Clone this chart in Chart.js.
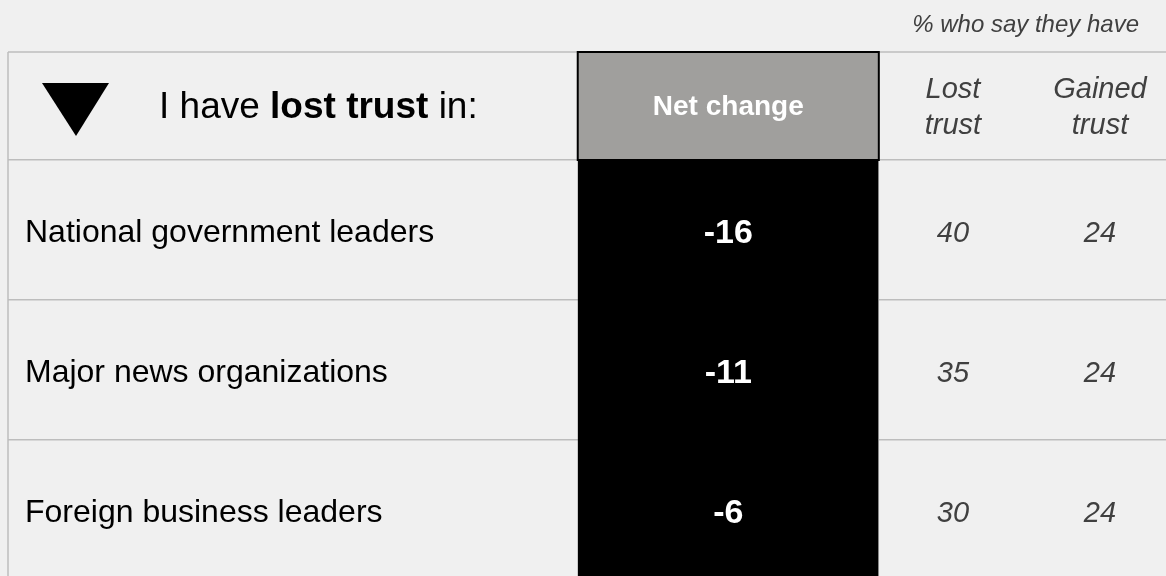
<!DOCTYPE html>
<html>
<head>
<meta charset="utf-8">
<script src="https://cdn.jsdelivr.net/npm/chart.js@4.4.1/dist/chart.umd.min.js"></script>
<style>
    html, body { margin: 0; padding: 0; background: #f0f0f0; overflow: hidden; }
    #wrap { width: 1166px; height: 580px; }
</style>
</head>
<body>
<div id="wrap"><canvas id="trustChart" width="1166" height="580"></canvas></div>
<script>
// Table data
const institutions = ['National government leaders', 'Major news organizations', 'Foreign business leaders'];
const netChange = [-16, -11, -6];
const lostTrust = [40, 35, 30];
const gainedTrust = [24, 24, 24];
const netHeader = 'Net change';
const lostHeader = ['Lost', 'trust'];
const gainedHeader = ['Gained', 'trust'];
const noteText = '% who say they have';

// Column layout, in percent of table width (x scale 0..100)
const COL = { netLeft: 49.2, netRight: 75.2, lost: 81.6, gained: 94.3 };
const FONT = '"Liberation Sans", Arial, sans-serif';
const HEADER_TOP = 52;
const LINE_COLOR = '#bdbdbd';

const tablePlugin = {
    id: 'tableText',
    afterDraw(chart) {
        const { ctx, chartArea } = chart;
        const x = chart.scales.x;
        const y = chart.scales.y;
        const netL = x.getPixelForValue(COL.netLeft);
        const netR = x.getPixelForValue(COL.netRight);
        const netC = (netL + netR) / 2;
        const lostC = x.getPixelForValue(COL.lost);
        const gainC = x.getPixelForValue(COL.gained);

        ctx.save();
        // header frame lines
        ctx.strokeStyle = LINE_COLOR;
        ctx.lineWidth = 1.5;
        ctx.beginPath();
        ctx.moveTo(chartArea.left, HEADER_TOP);
        ctx.lineTo(chartArea.right, HEADER_TOP);
        ctx.moveTo(chartArea.left, HEADER_TOP);
        ctx.lineTo(chartArea.left, chartArea.bottom);
        ctx.stroke();

        // net change header cell
        ctx.fillStyle = '#a09f9d';
        ctx.fillRect(netL, HEADER_TOP, netR - netL, chartArea.top - HEADER_TOP);
        ctx.strokeStyle = '#000';
        ctx.lineWidth = 2;
        ctx.strokeRect(netL, HEADER_TOP, netR - netL, chartArea.top - HEADER_TOP);

        const headMid = (HEADER_TOP + chartArea.top) / 2;
        ctx.textBaseline = 'middle';
        ctx.textAlign = 'center';
        ctx.fillStyle = '#fff';
        ctx.font = 'bold 28px ' + FONT;
        ctx.fillText(netHeader, netC, headMid + 1);

        // lost / gained headers
        ctx.fillStyle = '#404040';
        ctx.font = 'italic 29px ' + FONT;
        ctx.fillText(lostHeader[0], lostC, headMid - 16);
        ctx.fillText(lostHeader[1], lostC, headMid + 20);
        ctx.fillText(gainedHeader[0], gainC, headMid - 16);
        ctx.fillText(gainedHeader[1], gainC, headMid + 20);

        // note above table
        ctx.textAlign = 'right';
        ctx.font = 'italic 24px ' + FONT;
        ctx.fillText(noteText, 1139, 25);

        // down triangle
        ctx.fillStyle = '#000';
        ctx.beginPath();
        ctx.moveTo(42, 83);
        ctx.lineTo(109, 83);
        ctx.lineTo(76, 136);
        ctx.closePath();
        ctx.fill();

        // "I have lost trust in:" with bold part
        ctx.textAlign = 'left';
        const parts = [['I have ', ''], ['lost trust', 'bold '], [' in:', '']];
        let tx = 159;
        parts.forEach(([txt, weight]) => {
            ctx.font = weight + '37px ' + FONT;
            ctx.fillText(txt, tx, headMid + 2);
            tx += ctx.measureText(txt).width;
        });

        // row labels and values
        institutions.forEach((name, i) => {
            const yy = y.getPixelForValue(i);
            ctx.textAlign = 'left';
            ctx.fillStyle = '#000';
            ctx.font = '32px ' + FONT;
            ctx.fillText(name, chartArea.left + 17, yy + 3);

            ctx.textAlign = 'center';
            ctx.fillStyle = '#fff';
            ctx.font = 'bold 34px ' + FONT;
            ctx.fillText(String(netChange[i]), netC, yy + 4);
            ctx.fillStyle = '#404040';
            ctx.font = 'italic 29px ' + FONT;
            ctx.fillText(String(lostTrust[i]), lostC, yy + 4);
            ctx.fillText(String(gainedTrust[i]), gainC, yy + 4);
        });
        ctx.restore();
    }
};

new Chart(document.getElementById('trustChart'), {
    type: 'bar',
    data: {
        labels: institutions,
        datasets: [{
            label: netHeader,
            data: institutions.map(() => [COL.netLeft, COL.netRight]),
            backgroundColor: '#000',
            borderColor: '#a0a0a0',
            borderWidth: { left: 0, right: 1, top: 0, bottom: 0 },
            borderSkipped: false,
            barPercentage: 1,
            categoryPercentage: 1
        }]
    },
    options: {
        indexAxis: 'y',
        responsive: false,
        animation: false,
        events: [],
        layout: { padding: { top: 160, left: 8, right: 0, bottom: 0 } },
        plugins: {
            legend: { display: false },
            tooltip: { enabled: false }
        },
        scales: {
            x: { display: false, min: 0, max: 100 },
            y: {
                z: 1,
                grid: { color: LINE_COLOR, lineWidth: 1.5, drawTicks: false, offset: true },
                border: { display: false },
                ticks: { display: false },
                afterFit(scale) {
                    scale.width = 0;
                    scale.paddingTop = 0;
                    scale.paddingBottom = 0;
                }
            }
        }
    },
    plugins: [tablePlugin]
});
</script>
</body>
</html>
